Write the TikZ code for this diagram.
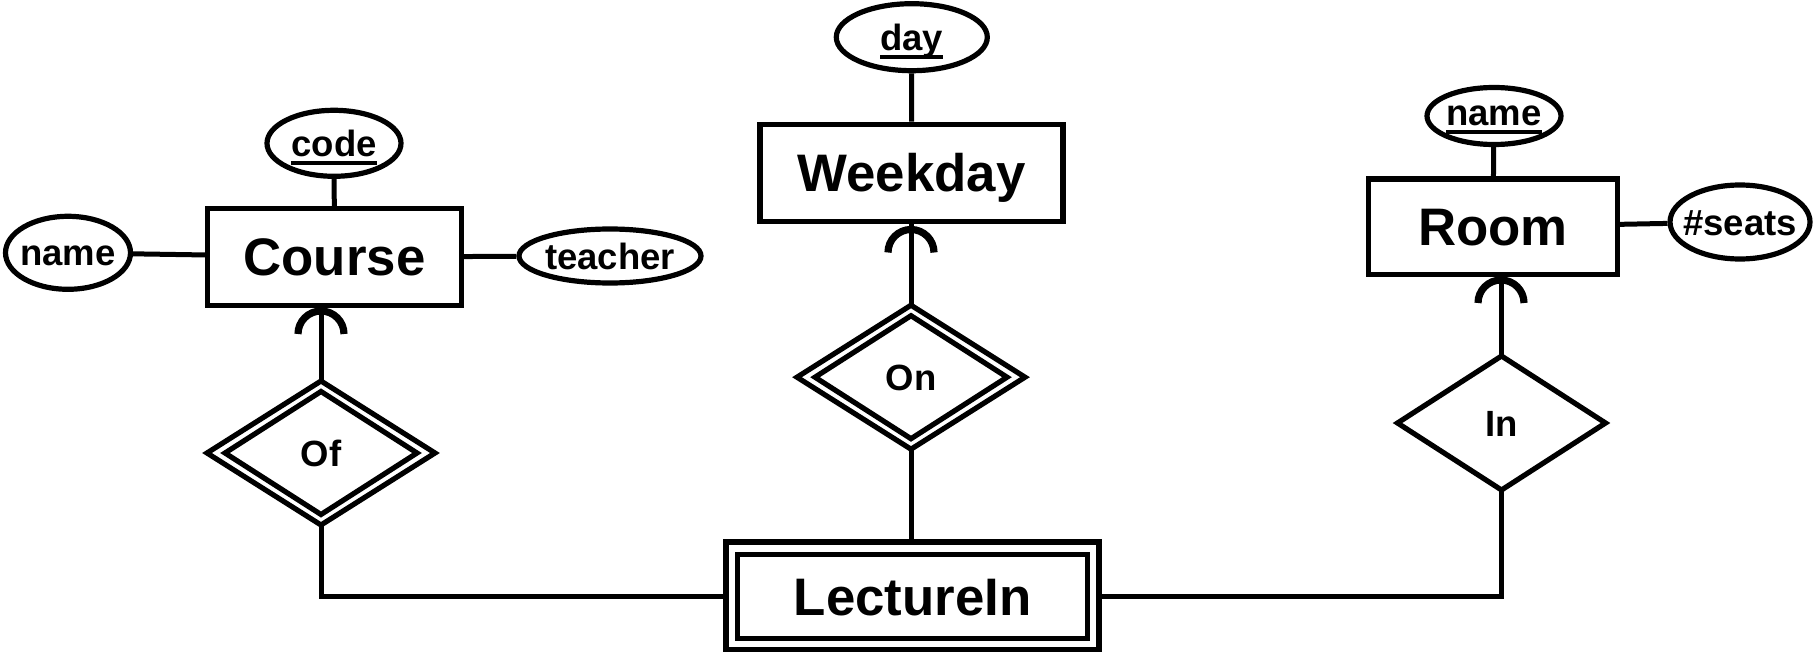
\documentclass[tikz,border=0pt]{standalone}
\usepackage{fontspec}
\setmainfont{Liberation Sans}
\usetikzlibrary{shapes.geometric}
\newcommand{\keyattr}[1]{\setbox0\hbox{#1}\rlap{\rule[-4.35pt]{\wd0}{2pt}}\box0}
\begin{document}
\begin{tikzpicture}[x=0.5pt,y=-0.5pt,line width=2.6pt,
  ent/.style={draw, rectangle, inner sep=0pt, font=\bfseries\fontsize{26.4}{30}\selectfont, text height=18.9pt, text depth=0pt},
  attr/.style={draw, ellipse, inner sep=0pt, font=\bfseries\fontsize{18.25}{22}\selectfont, text height=13.1pt, text depth=0pt},
  rel/.style={draw, diamond, inner sep=0pt, outer sep=0pt, font=\bfseries\fontsize{18.25}{22}\selectfont, text height=13.1pt, text depth=0pt},
  link/.style={line width=2.5pt},
  arcline/.style={line width=3.6pt}]
\useasboundingbox (0,0) rectangle (1813,652);

% entities
\node[ent, minimum width=127pt, minimum height=48.25pt] (course) at (334.5,257) {\makebox[0pt]{Course}};
\node[ent, minimum width=151.5pt, minimum height=48.85pt] (weekday) at (911.5,173) {\makebox[0pt]{Weekday}};
\node[ent, minimum width=124.5pt, minimum height=47.75pt] (room) at (1493,226.8) {\makebox[0pt]{Room}};
\node[ent, minimum width=186.5pt, minimum height=54pt] (lect) at (912.5,596) {};
\node[ent, minimum width=175pt, minimum height=42pt] (lectin) at (912.8,596.2) {\makebox[0pt]{LectureIn}};

% attributes
\node[attr, minimum width=67pt, minimum height=33pt] (code) at (334,143.3) {\makebox[0pt]{\keyattr{code}}};
\node[attr, minimum width=62.5pt, minimum height=36.5pt] (cname) at (68,252.8) {\makebox[0pt]{name}};
\node[attr, minimum width=91pt, minimum height=27pt] (teacher) at (610,256) {\makebox[0pt]{teacher}};
\node[attr, minimum width=75.5pt, minimum height=33.5pt] (day) at (911.8,37.2) {\makebox[0pt]{\keyattr{day}}};
\node[attr, minimum width=67pt, minimum height=28.5pt] (rname) at (1494,116) {\makebox[0pt]{\raisebox{2pt}{\keyattr{name}}}};
\node[attr, minimum width=70pt, minimum height=37pt] (seats) at (1740,222) {\makebox[0pt]{\#seats}};

% relationships
\node[rel, minimum width=114pt, minimum height=72pt] (ofrel) at (321,453) {\makebox[0pt]{Of}};
\node[rel, minimum width=96pt, minimum height=61.5pt] (ofin) at (321,453) {};
\node[rel, minimum width=114pt, minimum height=72pt] (onrel) at (911,377.2) {\makebox[0pt]{On}};
\node[rel, minimum width=96pt, minimum height=61.5pt] (onin) at (911,377.2) {};
\node[rel, minimum width=104pt, minimum height=67pt] (inrel) at (1501.5,423) {\makebox[0pt]{In}};

% attribute links
\draw[link] (cname) -- (course);
\draw[link] (code) -- (course);
\draw[link] (course) -- (teacher);
\draw[link] (day) -- (weekday);
\draw[link] (rname) -- (room);
\draw[link] (room) -- (seats);

% relationship links
\draw[link] (ofrel.north) -- (ofrel.north |- course.south);
\draw[link] (onrel.north) -- (onrel.north |- weekday.south);
\draw[link] (inrel.north) -- (inrel.north |- room.south);
\draw[link] (ofrel.south) |- (lect.west);
\draw[link] (inrel.south) |- (lect.east);
\draw[link] (onrel.south) -- (onrel.south |- lect.north);

% round arrow heads
\coordinate (ofarc) at (321,334);
\coordinate (onarc) at (911,252.5);
\coordinate (inarc) at (1501,303);
\draw[arcline] ([xshift=-11.5pt]ofarc) arc[start angle=180, end angle=0, radius=11.5pt];
\draw[arcline] ([xshift=-11.5pt]onarc) arc[start angle=180, end angle=0, radius=11.5pt];
\draw[arcline] ([xshift=-11.5pt]inarc) arc[start angle=180, end angle=0, radius=11.5pt];
\end{tikzpicture}
\end{document}
